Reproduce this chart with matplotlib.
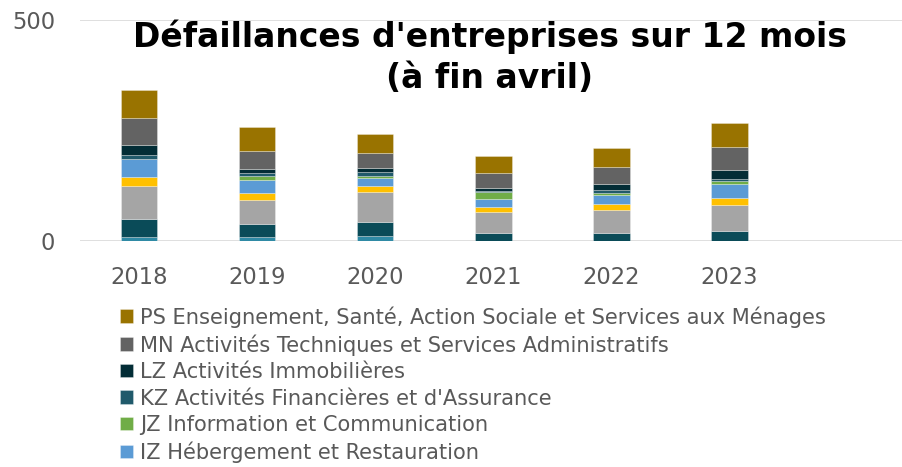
import numpy as np
import matplotlib
matplotlib.use("Agg")
import matplotlib.pyplot as plt

# ------------------------------------------------------------
# Data (number of failures)
# ------------------------------------------------------------
years = ["2018", "2019", "2020", "2021", "2022", "2023", ""]

series_names = [
    "BE Industrie",
    "FZ Construction",
    "GZ Commerce",
    "HZ Transports et Entreposage",
    "IZ Hébergement et Restauration",
    "JZ Information et Communication",
    "KZ Activités Financières et d'Assurance",
    "LZ Activités Immobilières",
    "MN Activités Techniques et Services Administratifs",
    "PS Enseignement, Santé, Action Sociale et Services aux Ménages",
]

be = [8, 9, 11, 1, 1, 1, 0]
fz = [42, 29, 33, 18, 18, 21, 0]
gz = [74, 54, 66, 47, 51, 60, 0]
hz = [20, 17, 14, 12, 14, 15, 0]
iz = [41, 29, 18, 18, 20, 32, 0]
jz = [1, 9, 5, 14, 4, 7, 0.6]
kz = [9, 6, 8, 2, 8, 4, 0]
lz = [23, 10, 10, 8, 13, 20, 0]
mn = [60, 40, 34, 34, 38, 53, 0]
ps = [64, 56, 44, 38, 43, 54, 0]

values = [be, fz, gz, hz, iz, jz, kz, lz, mn, ps]
colors = ["#2F8AA5", "#0A4B58", "#A5A5A5", "#FFC000", "#5B9BD5",
          "#70AD47", "#205A6B", "#032D36", "#636363", "#997300"]

# ------------------------------------------------------------
# Figure
# ------------------------------------------------------------
fig = plt.figure(figsize=(9.02, 4.67), dpi=100)
ax = fig.add_axes([80 / 902, 226 / 467, 826.5 / 902, 221 / 467])

x = np.arange(len(years))
bottom = np.zeros(len(years))
bars = []
for name, vals, col in zip(series_names, values, colors):
    b = ax.bar(x, vals, width=0.31, bottom=bottom, color=col, label=name,
               edgecolor=(1, 1, 1, 0.35), linewidth=0.6, zorder=3)
    bars.append(b)
    bottom += np.array(vals)

ax.set_xlim(-0.5, len(years) - 0.5)
ax.set_ylim(0, 500)
ax.set_yticks([0, 500])
ax.set_xticks(x)
ax.set_xticklabels(years)
ax.grid(axis="y", color="#D9D9D9", linewidth=1.2, zorder=0)
for s in ax.spines.values():
    s.set_visible(False)
ax.tick_params(axis="both", length=0, labelsize=16.3, colors="#595959")
ax.tick_params(axis="y", pad=18)
ax.tick_params(axis="x", pad=18)

fig.text(0.543, 1 - 37 / 467, "Défaillances d'entreprises sur 12 mois",
         ha="center", va="center", fontsize=23.8, fontweight="bold", color="black")
fig.text(0.543, 1 - 78 / 467, "(à fin avril)",
         ha="center", va="center", fontsize=23.8, fontweight="bold", color="black")

# legend (only the top six entries are visible in the original)
shown = bars[::-1][:6]
leg = fig.legend(shown, [b.get_label() for b in shown],
                 loc="upper left", bbox_to_anchor=(120 / 902, 1 - 306 / 467),
                 frameon=False, fontsize=15.1, labelcolor="#595959",
                 handlelength=0.62, handleheight=0.62, handletextpad=0.35,
                 labelspacing=0.31, borderpad=0, borderaxespad=0)

fig.savefig("out.png", dpi=100)
